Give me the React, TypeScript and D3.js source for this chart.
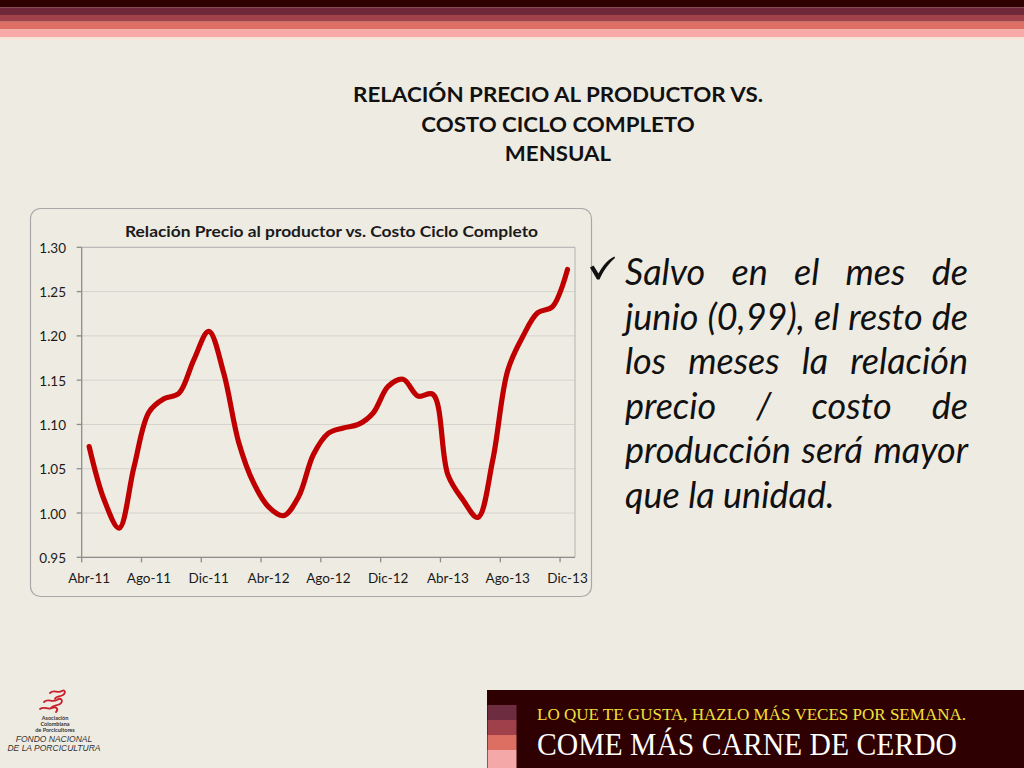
import React, { useMemo } from "react";
import * as d3 from "d3";

const categories = [
  "Abr-11","May-11","Jun-11","Jul-11","Ago-11","Sep-11","Oct-11","Nov-11","Dic-11",
  "Ene-12","Feb-12","Mar-12","Abr-12","May-12","Jun-12","Jul-12","Ago-12","Sep-12","Oct-12","Nov-12","Dic-12",
  "Ene-13","Feb-13","Mar-13","Abr-13","May-13","Jun-13","Jul-13","Ago-13","Sep-13","Oct-13","Nov-13","Dic-13",
];
const ratio = [
  1.075, 1.015, 0.983, 1.052, 1.114, 1.129, 1.135, 1.173, 1.205,
  1.158, 1.080, 1.034, 1.007, 0.997, 1.018, 1.066, 1.090, 1.096, 1.100, 1.113, 1.143,
  1.151, 1.132, 1.134, 1.043, 1.015, 0.995, 1.060, 1.161, 1.199, 1.226, 1.233, 1.275,
];
const xTickLabels = ["Abr-11","Ago-11","Dic-11","Abr-12","Ago-12","Dic-12","Abr-13","Ago-13","Dic-13"];
const yTicks = [0.95, 1.0, 1.05, 1.1, 1.15, 1.2, 1.25, 1.3];

const slideTitle = ["RELACIÓN PRECIO AL PRODUCTOR VS.", "COSTO CICLO COMPLETO", "MENSUAL"];
const chartTitle = "Relación Precio al productor vs. Costo Ciclo Completo";
const bodyLines = [
  "Salvo en el mes de",
  "junio (0,99), el resto de",
  "los meses la relación",
  "precio / costo de",
  "producción será mayor",
  "que la unidad.",
];
const bannerTop = "LO QUE TE GUSTA, HAZLO MÁS VECES POR SEMANA.";
const bannerMain = "COME MÁS CARNE DE CERDO";

const BG = "#EEEBE2";

let _ctx: CanvasRenderingContext2D | null = null;
function measure(text: string, font: string): number {
  if (!_ctx) _ctx = document.createElement("canvas").getContext("2d");
  _ctx!.font = font;
  return _ctx!.measureText(text).width;
}

export default function App() {
  const W = 1024, H = 768;
  const plot = { left: 81.7, right: 575, top: 247.3, bottom: 557.3 };
  const x = d3.scaleBand<string>().domain(categories).range([plot.left, plot.right]).padding(0);
  const y = d3.scaleLinear().domain([0.95, 1.3]).range([plot.bottom, plot.top]);
  const bw = x.bandwidth();
  const line = d3
    .line<number>()
    .x((_, i) => (x(categories[i]) as number) + bw / 2)
    .y((d) => y(d))
    .curve(d3.curveCatmullRom.alpha(0.5));

  const layout = useMemo(() => {
    const left = 625, right = 968, avail = right - left;
    let size = 36;
    for (; size > 28; size -= 0.5) {
      const f = `italic ${size}px Lato`;
      if (measure(bodyLines[1], f) <= avail - 2) break;
    }
    const font = `italic ${size}px Lato`;
    const space = measure(" ", font);
    const body = bodyLines.map((ln, li) => {
      const words = ln.split(" ");
      const last = li === bodyLines.length - 1;
      const widths = words.map((w) => measure(w, font));
      const total = widths.reduce((a, b) => a + b, 0);
      const gap = last || words.length < 2 ? space : (avail - total) / (words.length - 1);
      let cx = left;
      return words.map((w, i) => {
        const pos = cx;
        cx += widths[i] + gap;
        return { w, x: pos };
      });
    });
    const tFont = "bold 20.5px Lato";
    const tScale = 410 / measure(slideTitle[0], tFont);
    const titleLens = slideTitle.map((t) => measure(t, tFont) * tScale);
    return { body, size, titleLens };
  }, []);

  const stripes = [
    { y: 0, h: 7.3, c: "#2E0002" },
    { y: 7.3, h: 7.7, c: "#70293B" },
    { y: 15, h: 6.7, c: "#A1424A" },
    { y: 21.7, h: 7.6, c: "#DE6F64" },
    { y: 29.3, h: 8, c: "#F7AAA8" },
    { y: 37.3, h: 2.5, c: "#F6E6DA" },
  ];
  const bannerSq = [
    { y: 705, c: "#6E2C40" },
    { y: 720, c: "#A0404A" },
    { y: 735, c: "#DC6E62" },
    { y: 750, c: "#F5A8A8" },
  ];

  return (
    <svg width={W} height={H} style={{ position: "absolute", left: 0, top: 0 }} fontFamily="Lato">
      <rect x={0} y={0} width={W} height={H} fill={BG} />
      {stripes.map((s, i) => (
        <rect key={i} x={0} y={s.y} width={W} height={s.h} fill={s.c} />
      ))}

      {slideTitle.map((t, i) => (
        <text
          key={i}
          x={558}
          y={[102, 131.5, 160.5][i]}
          textAnchor="middle"
          fontWeight="bold"
          fontSize={20.5}
          fill="#111"
          textLength={layout.titleLens[i]}
          lengthAdjust="spacingAndGlyphs"
        >
          {t}
        </text>
      ))}

      <rect x={30.5} y={208.5} width={561} height={388} rx={10} fill={BG} stroke="#A8A8A8" strokeWidth={1.2} />
      <text x={331.5} y={237.3} textAnchor="middle" fontWeight="bold" fontSize={16} fill="#1a1a1a" textLength={413} lengthAdjust="spacingAndGlyphs">
        {chartTitle}
      </text>

      {yTicks.map((t) => (
        <line key={t} x1={plot.left} x2={plot.right} y1={y(t)} y2={y(t)} stroke="#D4D2CC" strokeWidth={1} />
      ))}
      <line x1={plot.left} x2={plot.right} y1={plot.top} y2={plot.top} stroke="#B4B4B4" />
      <line x1={plot.right} x2={plot.right} y1={plot.top} y2={plot.bottom} stroke="#B4B4B4" />
      <line x1={plot.left} x2={plot.left} y1={plot.top} y2={plot.bottom} stroke="#8C8C8C" strokeWidth={1.3} />
      {yTicks.map((t) => (
        <g key={"yt" + t}>
          <line x1={plot.left - 5} x2={plot.left} y1={y(t)} y2={y(t)} stroke="#8C8C8C" strokeWidth={1.3} />
          <text x={66} y={y(t) + 5.5} textAnchor="end" fontSize={13.5} fill="#1a1a1a">
            {t.toFixed(2)}
          </text>
        </g>
      ))}
      <line x1={plot.left} x2={plot.right} y1={plot.bottom} y2={plot.bottom} stroke="#8C8C8C" strokeWidth={1.3} />
      {xTickLabels.map((c) => {
        const x0 = x(c) as number;
        return (
          <g key={c}>
            <line x1={x0} x2={x0} y1={plot.bottom} y2={plot.bottom + 5} stroke="#8C8C8C" strokeWidth={1.3} />
            <text x={x0 + bw / 2} y={583} textAnchor="middle" fontSize={13.5} fill="#1a1a1a">
              {c}
            </text>
          </g>
        );
      })}

      <path d={line(ratio) || ""} fill="none" stroke="#C00000" strokeWidth={5.2} strokeLinecap="round" strokeLinejoin="round" />

      <path
        d="M590,267.5 L593.5,265.5 L598.5,273.5 C603,265 608,259.5 614.5,256.5 L615,258 C609,263 603.5,270.5 599.5,279.5 L597,279.5 Z"
        fill="#111"
      />

      {layout.body.map((words, li) => (
        <g key={li}>
          {words.map((wd, wi) => (
            <text key={wi} x={wd.x} y={285 + li * 44.6} fontStyle="italic" fontSize={layout.size} fill="#111">
              {wd.w}
            </text>
          ))}
        </g>
      ))}

      <rect x={487} y={690} width={537} height={78} fill="#2E0002" />
      {bannerSq.map((s, i) => (
        <rect key={i} x={487.5} y={s.y} width={29} height={i === 3 ? 18 : 15} fill={s.c} />
      ))}
      <text x={537} y={720} fontFamily="Liberation Serif, DejaVu Serif, serif" fontSize={17} fill="#F2E23A" textLength={429} lengthAdjust="spacingAndGlyphs">
        {bannerTop}
      </text>
      <text x={537} y={755} fontFamily="Liberation Serif, DejaVu Serif, serif" fontSize={31} fill="#FFFFFF" textLength={420} lengthAdjust="spacingAndGlyphs">
        {bannerMain}
      </text>

      <g fill="none" stroke="#C8202A" strokeWidth={1.8} strokeLinecap="round">
        <path d="M50,693 C54,689 58,694 62,691 C65,689 66,693 63,695 C60,697 56,696 55,699" />
        <path d="M44,702 C48,698 52,703 57,700 C61,697 64,701 60,704 C57,706 53,705 51,708" />
        <path d="M40,709 C44,706 48,710 52,708 C56,706 59,709 56,712" />
      </g>
      <g fontSize={5.5} fontWeight="bold" fill="#333" textAnchor="middle">
        <text x={55} y={720}>Asociación</text>
        <text x={55} y={726}>Colombiana</text>
        <text x={55} y={732}>de Porcicultores</text>
      </g>
      <g fontSize={8.5} fontStyle="italic" fill="#333" textAnchor="middle" fontFamily="Liberation Sans, Arial">
        <text x={54} y={742}>FONDO NACIONAL</text>
        <text x={54} y={751}>DE LA PORCICULTURA</text>
      </g>
    </svg>
  );
}
